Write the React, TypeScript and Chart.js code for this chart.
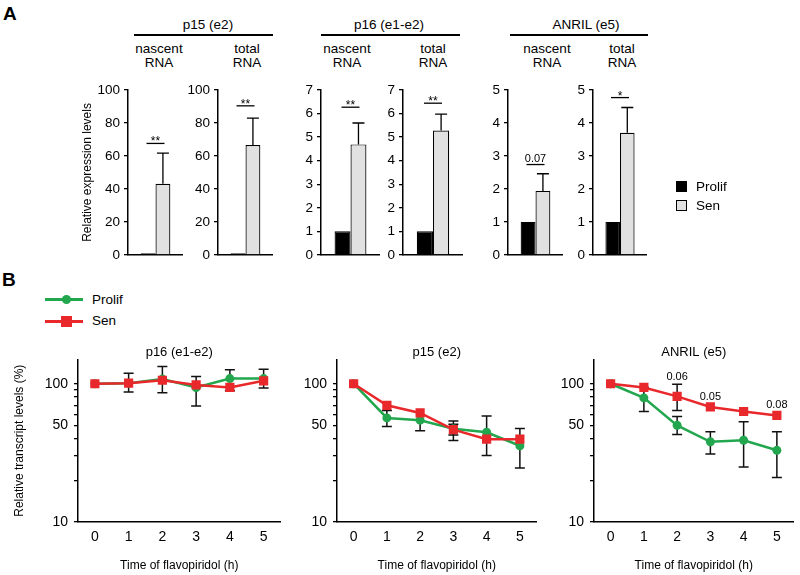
import React, { useEffect, useRef } from 'react';
import { Chart, registerables } from 'chart.js';

Chart.register(...registerables);

const FONT = '"Liberation Sans", Arial, Helvetica, sans-serif';
const INK = '#000000';
const GREEN = '#22a64e';
const RED = '#e8282b';
const SEN_FILL = '#e1e1e1';

// ===================== Panel A data =====================
const barSeries = ['Prolif', 'Sen'];
const geneHeaders = ['p15 (e2)', 'p16 (e1-e2)', 'ANRIL (e5)'];
const rnaTypes = ['nascent', 'total', 'nascent', 'total', 'nascent', 'total'];

const p15NascentValues = [1, 43.1];
const p15NascentErrors = [0, 18.6];
const p15TotalValues = [1, 66.6];
const p15TotalErrors = [0, 16.4];
const p16NascentValues = [1, 4.69];
const p16NascentErrors = [0, 0.91];
const p16TotalValues = [1, 5.28];
const p16TotalErrors = [0, 0.7];
const anrilNascentValues = [1, 1.94];
const anrilNascentErrors = [0, 0.52];
const anrilTotalValues = [1, 3.7];
const anrilTotalErrors = [0, 0.77];

const sigLabelsA = ['**', '**', '**', '**', '0.07', '*'];
const sigLevelsA = [67.6, 90.4, 6.27, 6.44, 2.74, 4.77];
const yMaxA = [100, 100, 7, 7, 5, 5];
const yStepA = [20, 20, 1, 1, 1, 1];

// ===================== Panel B data =====================
const timeLabels = ['0', '1', '2', '3', '4', '5'];
const logTickValues = [10, 20, 30, 40, 50, 60, 70, 80, 90, 100];
const logTickLabels = [10, 50, 100];

const p16Prolif = [100, 101, 108, 94, 109, 109];
const p16ProlifHi = [null, 119, 133, null, 126, 127.5];
const p16ProlifLo = [null, null, null, 69, null, null];
const p16Sen = [100, 101, 106, 98, 94, 105];
const p16SenHi = [null, null, null, 113, null, null];
const p16SenLo = [null, 87, 86, null, 89, 93];

const p15Prolif = [100, 56.6, 54.5, 47.2, 44.6, 35.6];
const p15ProlifHi = [null, 64, null, 53.8, 58.5, null];
const p15ProlifLo = [null, 49, 45.8, 38.9, null, 24.6];
const p15Sen = [100, 69.8, 61.5, 46.6, 39.7, 39.7];
const p15SenHi = [null, null, null, 51, null, 47.4];
const p15SenLo = [null, null, null, 42.5, 30.3, null];

const anrilProlif = [100, 79, 50, 38, 39, 33];
const anrilProlifHi = [null, 94, 58, 45, 53, 45];
const anrilProlifLo = [null, 63, 43, 31, 25, 21];
const anrilSen = [100, 94, 81, 68, 63, 59];
const anrilSenHi = [null, null, 99, null, null, null];
const anrilSenLo = [null, null, 64, null, null, null];
const anrilPLabels = ['', '', '0.06', '0.05', '', '0.08'];

// ===================== Bar chart (panel A) =====================
function BarChart(props: any) {
  const { plotLeft, plotRight, values, errors, yMax, yStep, sigLevel, sigLabel, yTitle } = props;
  const ref = useRef<HTMLCanvasElement | null>(null);
  const axisW = yTitle ? 48 : 36;
  const left = plotLeft - axisW;
  const width = plotRight - left;
  const top = 75;
  const xAxisH = 10;
  const height = 257 - top + xAxisH;

  useEffect(() => {
    const extras = {
      id: 'barExtras',
      afterDatasetsDraw(chart: any) {
        const { ctx } = chart;
        const y = chart.scales.y;
        ctx.save();
        ctx.strokeStyle = INK;
        ctx.lineWidth = 1.3;
        values.forEach((v: number, i: number) => {
          const err = errors[i];
          if (!err) return;
          const el = chart.getDatasetMeta(i).data[0];
          const yTop = y.getPixelForValue(v + err);
          ctx.beginPath();
          ctx.moveTo(el.x, el.y);
          ctx.lineTo(el.x, yTop);
          ctx.moveTo(el.x - 6, yTop);
          ctx.lineTo(el.x + 6, yTop);
          ctx.stroke();
        });
        const x0 = chart.getDatasetMeta(0).data[0].x;
        const x1 = chart.getDatasetMeta(1).data[0].x;
        const cx = (x0 + x1) / 2;
        const sy = y.getPixelForValue(sigLevel);
        ctx.beginPath();
        ctx.moveTo(cx - 9, sy);
        ctx.lineTo(cx + 9, sy);
        ctx.stroke();
        ctx.fillStyle = INK;
        ctx.textAlign = 'center';
        ctx.textBaseline = 'alphabetic';
        const isStar = /^\*+$/.test(sigLabel);
        ctx.font = `${isStar ? 12 : 11}px ${FONT}`;
        ctx.fillText(sigLabel, cx, isStar ? sy + 2 : sy - 3);
        ctx.restore();
      },
    };
    const chart = new Chart(ref.current as HTMLCanvasElement, {
      type: 'bar',
      data: {
        labels: [''],
        datasets: barSeries.map((name, i) => ({
          label: name,
          data: [values[i]],
          backgroundColor: i === 0 ? INK : SEN_FILL,
          borderColor: INK,
          borderWidth: 1.2,
          categoryPercentage: 0.54,
          barPercentage: 1,
        })),
      },
      options: {
        responsive: false,
        animation: false,
        devicePixelRatio: 1,
        layout: { padding: { top: 15, left: 0, right: 0, bottom: 0 } },
        plugins: { legend: { display: false }, tooltip: { enabled: false } },
        scales: {
          x: {
            type: 'category',
            offset: true,
            grid: { display: false, drawTicks: false },
            border: { display: true, color: INK, width: 1.5 },
            ticks: { display: false },
            afterFit: (s: any) => { s.height = xAxisH; },
          },
          y: {
            min: 0,
            max: yMax,
            grid: { display: true, drawOnChartArea: false, drawTicks: true, tickLength: 4, color: INK, lineWidth: 1.3 },
            border: { display: true, color: INK, width: 1.5 },
            ticks: { stepSize: yStep, color: INK, font: { family: FONT, size: 13.5 }, padding: 4 },
            title: yTitle
              ? { display: true, text: yTitle, color: INK, font: { family: FONT, size: 12 }, padding: { top: 0, bottom: 0 } }
              : { display: false },
            afterFit: (s: any) => { s.width = axisW; },
          },
        },
      } as any,
      plugins: [extras],
    });
    return () => chart.destroy();
  }, []);

  return (
    <canvas
      ref={ref}
      width={width}
      height={height}
      style={{ position: 'absolute', left, top, width, height }}
    />
  );
}

// ===================== Line chart (panel B) =====================
function LineChart(props: any) {
  const { canvasLeft, plotLeft, plotRight, title, prolif, prolifHi, prolifLo, sen, senHi, senLo, pLabels, yTitle } = props;
  const ref = useRef<HTMLCanvasElement | null>(null);
  const axisW = plotLeft - canvasLeft;
  const width = plotRight - canvasLeft;
  const top = 345;
  const height = 228;

  useEffect(() => {
    const errPlugin = {
      id: 'errBars',
      beforeDatasetsDraw(chart: any) {
        const { ctx } = chart;
        const y = chart.scales.y;
        ctx.save();
        ctx.strokeStyle = '#111';
        ctx.lineWidth = 1.5;
        const sets = [
          [prolifHi, prolifLo],
          [senHi, senLo],
        ];
        sets.forEach(([hi, lo]: any, d: number) => {
          const meta = chart.getDatasetMeta(d);
          meta.data.forEach((pt: any, i: number) => {
            [hi[i], lo[i]].forEach((v: any) => {
              if (v == null) return;
              const py = y.getPixelForValue(v);
              ctx.beginPath();
              ctx.moveTo(pt.x, pt.y);
              ctx.lineTo(pt.x, py);
              ctx.moveTo(pt.x - 5, py);
              ctx.lineTo(pt.x + 5, py);
              ctx.stroke();
            });
          });
        });
        ctx.restore();
      },
      afterDatasetsDraw(chart: any) {
        if (!pLabels) return;
        const { ctx } = chart;
        const y = chart.scales.y;
        const meta = chart.getDatasetMeta(1);
        ctx.save();
        ctx.fillStyle = INK;
        ctx.font = `11px ${FONT}`;
        ctx.textAlign = 'center';
        ctx.textBaseline = 'alphabetic';
        pLabels.forEach((lab: string, i: number) => {
          if (!lab) return;
          const pt = meta.data[i];
          let base = pt.y - 7;
          if (senHi[i] != null) base = Math.min(base, y.getPixelForValue(senHi[i]) - 4);
          ctx.fillText(lab, pt.x, base);
        });
        ctx.restore();
      },
    };
    const chart = new Chart(ref.current as HTMLCanvasElement, {
      type: 'line',
      data: {
        labels: timeLabels,
        datasets: [
          {
            label: 'Prolif',
            data: prolif,
            borderColor: GREEN,
            backgroundColor: GREEN,
            borderWidth: 2.5,
            pointStyle: 'circle',
            pointRadius: 4.5,
            pointBorderWidth: 0,
            pointBackgroundColor: GREEN,
            order: 1,
          },
          {
            label: 'Sen',
            data: sen,
            borderColor: RED,
            backgroundColor: RED,
            borderWidth: 2.5,
            pointStyle: 'rect',
            pointRadius: 6.5,
            pointBorderWidth: 0,
            pointBackgroundColor: RED,
            order: 0,
          },
        ],
      },
      options: {
        responsive: false,
        animation: false,
        devicePixelRatio: 1,
        layout: { padding: 0 },
        plugins: {
          legend: { display: false },
          tooltip: { enabled: false },
          title: {
            display: true,
            text: title,
            fullSize: false,
            color: INK,
            font: { family: FONT, size: 13, weight: 'normal', lineHeight: 1 },
            padding: { top: 0, bottom: 0 },
          },
        },
        scales: {
          x: {
            type: 'category',
            offset: true,
            grid: { display: false, drawTicks: false },
            border: { display: true, color: INK, width: 1.5 },
            ticks: { color: INK, font: { family: FONT, size: 14 }, padding: 7, maxRotation: 0, autoSkip: false },
            title: {
              display: true,
              text: 'Time of flavopiridol (h)',
              color: INK,
              font: { family: FONT, size: 12 },
              padding: { top: 0, bottom: 0 },
            },
            afterFit: (s: any) => { s.height = 51; },
          },
          y: {
            type: 'logarithmic',
            min: 10,
            max: 150,
            grid: { display: true, drawOnChartArea: false, drawTicks: true, tickLength: 4, color: INK, lineWidth: 1.3 },
            border: { display: true, color: INK, width: 1.5 },
            ticks: {
              color: INK,
              font: { family: FONT, size: 14 },
              padding: 6,
              autoSkip: false,
              callback: (v: any) => (logTickLabels.includes(Number(v)) ? String(v) : ''),
            },
            afterBuildTicks: (s: any) => {
              s.ticks = logTickValues.map((v) => ({ value: v }));
            },
            title: yTitle
              ? { display: true, text: yTitle, color: INK, font: { family: FONT, size: 12 }, padding: { top: 0, bottom: 0 } }
              : { display: false },
            afterFit: (s: any) => { s.width = axisW; },
          },
        },
      } as any,
      plugins: [errPlugin],
    });
    return () => chart.destroy();
  }, []);

  return (
    <canvas
      ref={ref}
      width={width}
      height={height}
      style={{ position: 'absolute', left: canvasLeft, top, width, height }}
    />
  );
}

// ===================== Text helpers =====================
function Text(props: any) {
  const { x, y, text, size = 13, align = 'center', bold = false } = props;
  const style: any = {
    position: 'absolute',
    top: y - size / 2,
    fontSize: size,
    lineHeight: `${size}px`,
    fontWeight: bold ? 'bold' : 'normal',
    whiteSpace: 'nowrap',
    color: INK,
    fontFamily: FONT,
  };
  if (align === 'center') {
    style.left = x - 100;
    style.width = 200;
    style.textAlign = 'center';
  } else {
    style.left = x;
  }
  return <div style={style}>{text}</div>;
}

function HLine(props: any) {
  const { x1, x2, y, h = 1.5 } = props;
  return <div style={{ position: 'absolute', left: x1, top: y - h / 2, width: x2 - x1, height: h, background: INK }} />;
}

// ===================== App =====================
export default function App() {
  const barPanels = [
    { plotLeft: 128, plotRight: 183, values: p15NascentValues, errors: p15NascentErrors },
    { plotLeft: 218, plotRight: 273, values: p15TotalValues, errors: p15TotalErrors },
    { plotLeft: 321, plotRight: 380, values: p16NascentValues, errors: p16NascentErrors },
    { plotLeft: 403, plotRight: 463, values: p16TotalValues, errors: p16TotalErrors },
    { plotLeft: 508, plotRight: 563, values: anrilNascentValues, errors: anrilNascentErrors },
    { plotLeft: 593, plotRight: 647, values: anrilTotalValues, errors: anrilTotalErrors },
  ];
  const subHeaderX = [159, 247, 347, 433, 547, 622];
  const geneHeaderX = [208, 389, 586];
  const geneLines = [
    [134, 273],
    [321, 460],
    [510, 648],
  ];

  return (
    <div style={{ position: 'absolute', left: 0, top: 0, width: 800, height: 575, background: '#fff', overflow: 'hidden', fontFamily: FONT }}>
      {/* Panel letters */}
      <Text x={3} y={13.5} text="A" size={19} bold align="left" />
      <Text x={2} y={279} text="B" size={19} bold align="left" />

      {/* Panel A headers */}
      {geneHeaders.map((g, i) => (
        <Text key={'g' + i} x={geneHeaderX[i]} y={25} text={g} size={13.5} />
      ))}
      {geneLines.map((l, i) => (
        <HLine key={'l' + i} x1={l[0]} x2={l[1]} y={35} />
      ))}
      {rnaTypes.map((t, i) => (
        <React.Fragment key={'r' + i}>
          <Text x={subHeaderX[i]} y={49} text={t} size={13.5} />
          <Text x={subHeaderX[i]} y={62.5} text="RNA" size={13.5} />
        </React.Fragment>
      ))}

      {/* Panel A charts */}
      {barPanels.map((p, i) => (
        <BarChart
          key={'b' + i}
          {...p}
          yMax={yMaxA[i]}
          yStep={yStepA[i]}
          sigLevel={sigLevelsA[i]}
          sigLabel={sigLabelsA[i]}
          yTitle={i === 0 ? 'Relative expression levels' : null}
        />
      ))}

      {/* Panel A legend */}
      <div style={{ position: 'absolute', left: 676, top: 181, width: 11, height: 11, background: INK }} />
      <Text x={696} y={186.5} text={barSeries[0]} size={13.5} align="left" />
      <div style={{ position: 'absolute', left: 676, top: 200, width: 11, height: 11, background: SEN_FILL, border: '1px solid #000', boxSizing: 'border-box' }} />
      <Text x={696} y={205.5} text={barSeries[1]} size={13.5} align="left" />

      {/* Panel B legend */}
      <div style={{ position: 'absolute', left: 45, top: 298, width: 38, height: 2.5, background: GREEN }} />
      <div style={{ position: 'absolute', left: 62, top: 294.8, width: 9, height: 9, borderRadius: '50%', background: GREEN }} />
      <Text x={92} y={299.5} text="Prolif" size={13.5} align="left" />
      <div style={{ position: 'absolute', left: 45, top: 320, width: 38, height: 2.5, background: RED }} />
      <div style={{ position: 'absolute', left: 61, top: 315.5, width: 11, height: 11, background: RED }} />
      <Text x={92} y={321} text="Sen" size={13.5} align="left" />

      {/* Panel B charts */}
      <LineChart
        canvasLeft={12}
        plotLeft={78}
        plotRight={287}
        title="p16 (e1-e2)"
        prolif={p16Prolif}
        prolifHi={p16ProlifHi}
        prolifLo={p16ProlifLo}
        sen={p16Sen}
        senHi={p16SenHi}
        senLo={p16SenLo}
        yTitle="Relative transcript levels (%)"
      />
      <LineChart
        canvasLeft={297}
        plotLeft={337}
        plotRight={543}
        title="p15 (e2)"
        prolif={p15Prolif}
        prolifHi={p15ProlifHi}
        prolifLo={p15ProlifLo}
        sen={p15Sen}
        senHi={p15SenHi}
        senLo={p15SenLo}
      />
      <LineChart
        canvasLeft={554}
        plotLeft={594}
        plotRight={800}
        title="ANRIL (e5)"
        prolif={anrilProlif}
        prolifHi={anrilProlifHi}
        prolifLo={anrilProlifLo}
        sen={anrilSen}
        senHi={anrilSenHi}
        senLo={anrilSenLo}
        pLabels={anrilPLabels}
      />
    </div>
  );
}
